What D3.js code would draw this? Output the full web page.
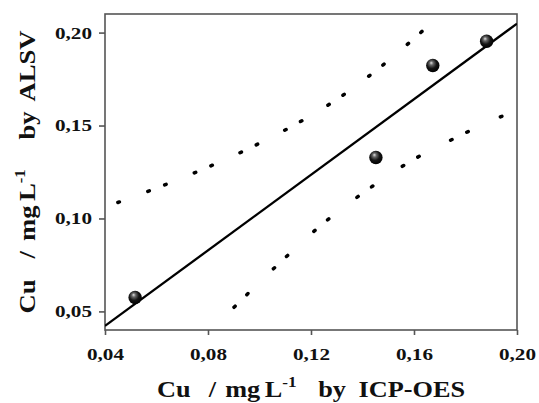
<!DOCTYPE html>
<meta charset='utf-8'>
<head>
<script src='https://d3js.org/d3.v7.min.js'></script>
<style>
  body{
    margin: 0;
    background: #fff;
  }
  svg text{
    font-family: 'Liberation Serif', 'Times New Roman', serif;
    font-weight: bold;
    fill: #111;
  }
</style>
</head>
<body>
  <svg id="chart"></svg>
<script>

  // Measured samples: Cu by ICP-OES (x) vs Cu by ALSV (y), mg/L
  var icpValues  = [0.0517, 0.1452, 0.1673, 0.1882];
  var alsvValues = [0.0575, 0.1328, 0.1823, 0.1953];

  // Regression line ends
  var fitX = [0.04, 0.20];
  var fitY = [0.0422, 0.2048];

  // Upper and lower bands (dotted)
  var upperX = [0.0450, 0.0625, 0.0796, 0.0967, 0.1138, 0.1305, 0.1476, 0.1643];
  var upperY = [0.1086, 0.1177, 0.1274, 0.1382, 0.1505, 0.1645, 0.1822, 0.2021];
  var lowerX = [0.0901, 0.1076, 0.1247, 0.1421, 0.1592, 0.1763, 0.1938, 0.2000];
  var lowerY = [0.0522, 0.0758, 0.0973, 0.1156, 0.1312, 0.1435, 0.1548, 0.1581];

  var xTicks = [0.04, 0.08, 0.12, 0.16, 0.20];
  var yTicks = [0.05, 0.10, 0.15, 0.20];

  var margin = {top: 14, right: 22, bottom: 73, left: 105},
      width = 539,
      height = 403,
      innerWidth = width - margin.left - margin.right,
      innerHeight = height - margin.top - margin.bottom;

  var svg = d3.select('#chart')
      .attr('width', width)
      .attr('height', height);

  var defs = svg.append('defs');

  // shaded ball for the points
  var grad = defs.append('radialGradient')
      .attr('id', 'ball')
      .attr('cx', '45%').attr('cy', '40%').attr('r', '60%')
      .attr('fx', '38%').attr('fy', '30%');
  grad.append('stop').attr('offset', '0%').attr('stop-color', '#e0e0e0');
  grad.append('stop').attr('offset', '25%').attr('stop-color', '#666');
  grad.append('stop').attr('offset', '60%').attr('stop-color', '#151515');
  grad.append('stop').attr('offset', '100%').attr('stop-color', '#000');

  defs.append('clipPath')
      .attr('id', 'plot-clip')
    .append('rect')
      .attr('width', innerWidth)
      .attr('height', innerHeight);

  var g = svg.append('g')
      .attr('transform', 'translate(' + margin.left + ',' + margin.top + ')');

  var x = d3.scaleLinear()
      .domain([0.04, 0.20])
      .range([0, innerWidth]);

  var y = d3.scaleLinear()
      .domain([0.04, 0.21])
      .range([innerHeight, 0]);

  var fmt = function(d) { return d3.format('.2f')(d).replace('.', ','); };

  // Frame
  g.append('rect')
      .attr('width', innerWidth)
      .attr('height', innerHeight)
      .attr('fill', 'none')
      .attr('stroke', '#555')
      .attr('stroke-width', 1.6);

  // Axes
  var xAxis = g.append('g')
      .attr('transform', 'translate(0,' + innerHeight + ')')
      .call(d3.axisBottom(x).tickValues(xTicks).tickFormat(fmt).tickSize(5).tickSizeOuter(0));

  var yAxis = g.append('g')
      .call(d3.axisLeft(y).tickValues(yTicks).tickFormat(fmt).tickSize(6).tickSizeOuter(0));

  [xAxis, yAxis].forEach(function(ax) {
    ax.select('.domain').remove();
    ax.selectAll('line').attr('stroke', '#555').attr('stroke-width', 1.6);
    ax.selectAll('text')
        .style('font-size', '17px')
        .attr('fill', '#111')
        .attr('textLength', 37)
        .attr('lengthAdjust', 'spacingAndGlyphs');
  });

  xAxis.selectAll('text')
      .attr('y', 30)
      .attr('dy', 0);

  yAxis.selectAll('text')
      .attr('x', -13)
      .attr('dy', '0.32em');

  var line = d3.line()
      .x(function(d) { return x(d[0]); })
      .y(function(d) { return y(d[1]); });

  var curve = d3.line()
      .x(function(d) { return x(d[0]); })
      .y(function(d) { return y(d[1]); })
      .curve(d3.curveMonotoneX);

  var plot = g.append('g').attr('clip-path', 'url(#plot-clip)');

  // Dotted bands
  plot.append('path')
      .datum(d3.zip(upperX, upperY))
      .attr('d', curve)
      .attr('fill', 'none')
      .attr('stroke', '#000')
      .attr('stroke-width', 3.5)
      .attr('stroke-linecap', 'round')
      .attr('stroke-dasharray', '1.6 30.4 1.6 16.4');

  plot.append('path')
      .datum(d3.zip(lowerX, lowerY))
      .attr('d', curve)
      .attr('fill', 'none')
      .attr('stroke', '#000')
      .attr('stroke-width', 3.5)
      .attr('stroke-linecap', 'round')
      .attr('stroke-dasharray', '1.6 16.4 1.6 35.4');

  // Fit line
  plot.append('path')
      .datum(d3.zip(fitX, fitY))
      .attr('d', line)
      .attr('fill', 'none')
      .attr('stroke', '#000')
      .attr('stroke-width', 2.3);

  // Points
  g.selectAll('.pt')
      .data(d3.zip(icpValues, alsvValues))
      .enter().append('circle')
      .attr('class', 'pt')
      .attr('cx', function(d) { return x(d[0]); })
      .attr('cy', function(d) { return y(d[1]); })
      .attr('r', 6.7)
      .attr('fill', 'url(#ball)');

  // Axis titles
  function title(t, last, size, gaps) {
    t.attr('text-anchor', 'middle')
        .style('font-size', size + 'px');
    t.append('tspan').text('Cu');
    t.append('tspan').attr('dx', gaps[0]).text('/');
    t.append('tspan').attr('dx', gaps[1]).text('mg');
    t.append('tspan').attr('dx', gaps[2]).text('L');
    t.append('tspan').attr('dy', -10).style('font-size', '15px').text('-1');
    t.append('tspan').attr('dx', gaps[3]).attr('dy', 10).text('by');
    t.append('tspan').attr('dx', gaps[4]).text(last);
    return t;
  }

  title(svg.append('text')
      .attr('x', margin.left + innerWidth / 2)
      .attr('y', 397)
      .attr('textLength', 308)
      .attr('lengthAdjust', 'spacingAndGlyphs'),
    'ICP-OES', 23, [16, 8, 4, 19, 11]);

  title(svg.append('text')
      .attr('transform', 'rotate(-90)')
      .attr('x', -(margin.top + innerHeight / 2))
      .attr('y', 35)
      .attr('textLength', 283)
      .attr('lengthAdjust', 'spacingAndGlyphs'),
    'ALSV', 24, [19, 9, 4, 27, 9]);

</script>
</body>
</html>
